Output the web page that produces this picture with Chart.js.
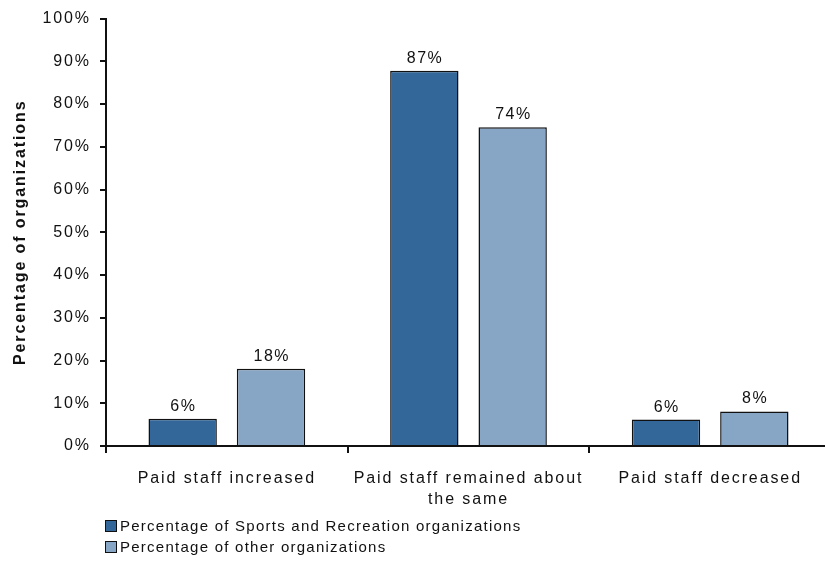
<!DOCTYPE html>
<html>
<head>
<meta charset="utf-8">
<script src="https://cdn.jsdelivr.net/npm/chart.js@4/dist/chart.umd.min.js"></script>
<style>
    html, body { margin: 0; padding: 0; background: #fff; overflow: hidden; }
    #wrap { position: relative; width: 825px; height: 566px; overflow: hidden; }
    #legend { position: absolute; left: 105px; top: 515px; font-family: "Liberation Sans", Arial, sans-serif; font-size: 15px; letter-spacing: 1.25px; color: #111; line-height: 21px; }
    #legend div { display: flex; align-items: center; white-space: nowrap; }
    #legend span.box { display: inline-block; width: 10px; height: 10px; border: 1px solid #111; margin-right: 3px; }
</style>
</head>
<body>
<div id="wrap">
    <canvas id="chart" width="832" height="566"></canvas>
    <div id="legend"></div>
</div>
<script>
const categories = [["Paid staff increased"], ["Paid staff remained about", "the same"], ["Paid staff decreased"]];
const seriesNames = ["Percentage of Sports and Recreation organizations", "Percentage of other organizations"];
const sportsValues = [6.4, 87.8, 6.2];
const otherValues = [18.1, 74.6, 8.1];
const sportsLabels = ["6%", "87%", "6%"];
const otherLabels = ["18%", "74%", "8%"];
const yTicks = [0, 10, 20, 30, 40, 50, 60, 70, 80, 90, 100];
const colors = ["#336699", "#87a5c5"];
const font = "Liberation Sans, Arial, sans-serif";

// the reference text is set wider than Arial, so space the letters out a bit
const spacing = {
    id: "spacing",
    beforeUpdate(chart) { chart.ctx.letterSpacing = "1.9px"; },
    beforeDraw(chart) { chart.ctx.letterSpacing = "1.9px"; }
};

const valueLabels = {
    id: "valueLabels",
    afterDatasetsDraw(chart) {
        const ctx = chart.ctx;
        const texts = [sportsLabels, otherLabels];
        ctx.save();
        ctx.font = "16px " + font;
        ctx.letterSpacing = "1.5px";
        ctx.fillStyle = "#111";
        ctx.textAlign = "center";
        ctx.textBaseline = "alphabetic";
        chart.data.datasets.forEach((ds, i) => {
            chart.getDatasetMeta(i).data.forEach((bar, j) => ctx.fillText(texts[i][j], bar.x + 0.75, bar.y - 8));
        });
        ctx.restore();
    }
};

new Chart(document.getElementById("chart"), {
    type: "bar",
    data: {
        labels: categories,
        datasets: [
            { label: seriesNames[0], data: sportsValues, backgroundColor: colors[0], borderColor: "#111", borderWidth: 1.5 },
            { label: seriesNames[1], data: otherValues, backgroundColor: colors[1], borderColor: "#111", borderWidth: 1.5 }
        ]
    },
    options: {
        responsive: false,
        animation: false,
        categoryPercentage: 0.731,
        barPercentage: 0.774,
        layout: { padding: { top: 18, right: 1, left: 0, bottom: 0 } },
        plugins: { legend: { display: false }, tooltip: { enabled: false } },
        scales: {
            x: {
                afterFit: (scale) => { scale.height = 120; },
                border: { color: "#111", width: 2 },
                grid: { drawOnChartArea: false, drawTicks: true, tickLength: 7, color: "#111", lineWidth: 2 },
                ticks: { color: "#111", font: { family: font, size: 16, lineHeight: 1.3 }, padding: 15, maxRotation: 0 }
            },
            y: {
                min: 0,
                max: 100,
                afterFit: (scale) => { scale.width = 106; },
                afterBuildTicks: (scale) => { scale.ticks = yTicks.map((v) => ({ value: v })); },
                border: { color: "#111", width: 2 },
                grid: { drawOnChartArea: false, drawTicks: true, tickLength: 6, color: "#111", lineWidth: 2 },
                ticks: { color: "#111", font: { family: font, size: 16 }, padding: 9, callback: (v) => v + "%" },
                title: { display: true, text: "Percentage of organizations", color: "#111", font: { family: font, size: 16, weight: "bold" }, padding: { top: 11, bottom: 0 } }
            }
        }
    },
    plugins: [spacing, valueLabels]
});

document.getElementById("legend").innerHTML = seriesNames.map((name, i) => `<div><span class="box" style="background:${colors[i]}"></span>${name}</div>`).join("");
</script>
</body>
</html>
